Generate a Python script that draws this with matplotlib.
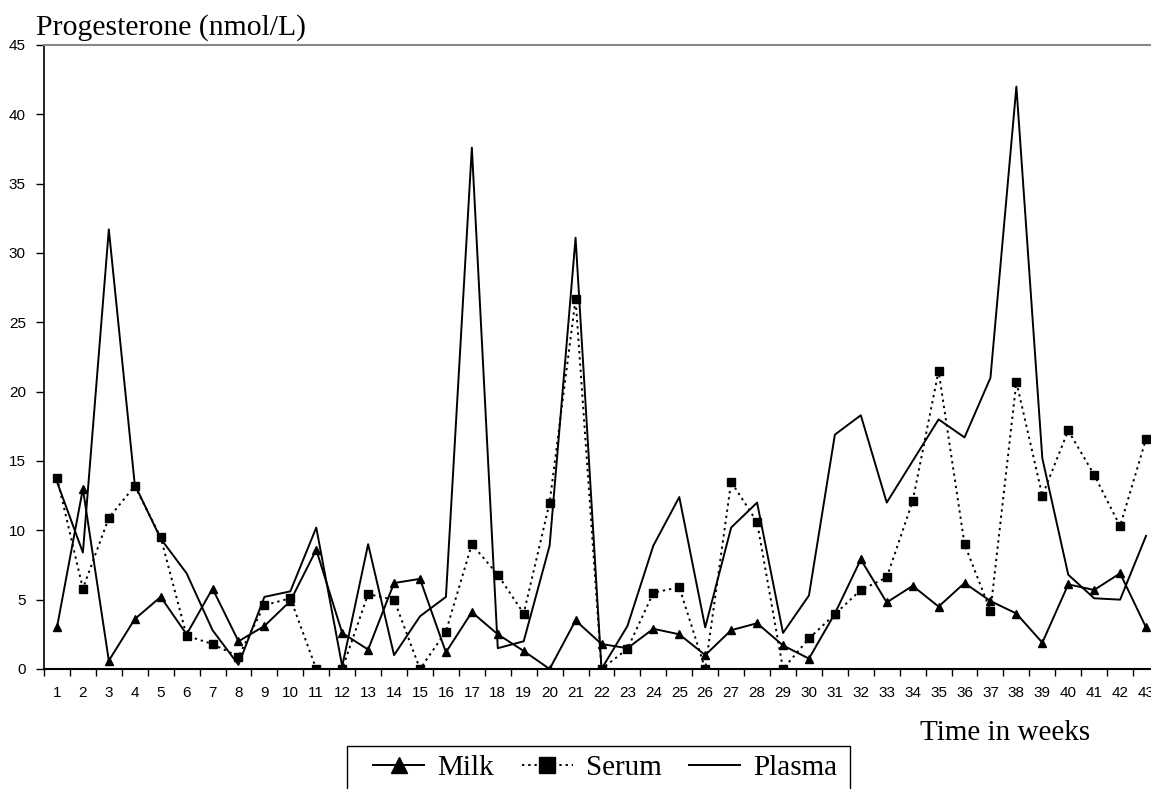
"""Progesterone in milk, serum and plasma over 43 weeks."""

import matplotlib
matplotlib.use('agg')
from matplotlib import pyplot
from matplotlib.patches import Rectangle

FIGURE_RESOLUTION_DPI = 100

WEEKS = list(range(1, 44))
WEEK_LABELS = [str(w) for w in WEEKS]

MILK_VALUES = [
    3.0, 13.0, 0.6, 3.6, 5.2, 2.5, 5.8, 2.0, 3.1, 4.9,
    8.6, 2.6, 1.4, 6.2, 6.5, 1.2, 4.1, 2.5, 1.3, 0.0,
    3.5, 1.8, 1.5, 2.9, 2.5, 1.0, 2.8, 3.3, 1.7, 0.75,
    4.0, 7.9, 4.8, 6.0, 4.5, 6.2, 4.9, 4.0, 1.9, 6.1,
    5.7, 6.9, 3.0
]
SERUM_VALUES = [
    13.8, 5.8, 10.9, 13.2, 9.5, 2.4, 1.8, 0.9, 4.6, 5.1,
    0.0, 0.0, 5.4, 5.0, 0.0, 2.7, 9.0, 6.8, 4.0, 12.0,
    26.7, 0.0, 1.45, 5.5, 5.9, 0.0, 13.5, 10.6, 0.0, 2.2,
    3.95, 5.7, 6.6, 12.1, 21.5, 9.0, 4.2, 20.7, 12.5, 17.2,
    14.0, 10.3, 16.6
]
PLASMA_VALUES = [
    13.5, 8.4, 31.7, 13.3, 9.4, 6.9, 2.8, 0.3, 5.2, 5.6,
    10.2, 0.2, 9.0, 1.0, 3.8, 5.2, 37.6, 1.5, 2.0, 8.9,
    31.1, 0.0, 3.1, 8.9, 12.4, 3.0, 10.2, 12.0, 2.6, 5.3,
    16.9, 18.3, 12.0, 15.0, 18.0, 16.7, 21.0, 42.0, 15.2, 6.8,
    5.1, 5.0, 9.6
]

SERIF = 'Liberation Serif'
SANS = 'Liberation Sans'
WIDTH_PX = 1151.
HEIGHT_PX = 789.


def _run(output_file_name):
    figure_object = pyplot.figure(
        figsize=(WIDTH_PX / 100, HEIGHT_PX / 100), dpi=FIGURE_RESOLUTION_DPI
    )
    axes_object = figure_object.add_axes(
        [44 / WIDTH_PX, 120 / HEIGHT_PX, 1115 / WIDTH_PX, 624 / HEIGHT_PX]
    )

    line_width = 1.4
    milk_handle, = axes_object.plot(
        WEEKS, MILK_VALUES, color='black', linewidth=line_width,
        marker='^', markersize=5.5, label='Milk'
    )
    serum_handle, = axes_object.plot(
        WEEKS, SERUM_VALUES, color='black', linewidth=line_width,
        linestyle=(0, (1.2, 2.0)), marker='s', markersize=5.5, label='Serum'
    )
    plasma_handle, = axes_object.plot(
        WEEKS, PLASMA_VALUES, color='black', linewidth=line_width,
        label='Plasma'
    )

    axes_object.set_xlim(0.5, 43.5)
    axes_object.set_ylim(0, 45)
    axes_object.set_yticks(range(0, 46, 5))
    axes_object.set_xticks(WEEKS)
    axes_object.set_xticklabels(WEEK_LABELS, fontfamily=SANS, fontsize=11)
    axes_object.set_xticks([w + 0.5 for w in [0] + WEEKS], minor=True)
    axes_object.tick_params(axis='x', which='major', length=0, pad=12)
    axes_object.tick_params(axis='x', which='minor', length=5, width=1,
                            direction='out')
    axes_object.tick_params(axis='y', length=6, width=1, direction='out',
                            pad=7)
    for label_object in axes_object.get_yticklabels():
        label_object.set_fontfamily(SANS)
        label_object.set_fontsize(11)

    axes_object.spines['top'].set_color('#888888')
    axes_object.spines['top'].set_linewidth(1.5)
    axes_object.spines['right'].set_visible(False)
    axes_object.spines['left'].set_linewidth(1.2)
    axes_object.spines['bottom'].set_linewidth(1.5)

    figure_object.text(
        36 / WIDTH_PX, 1 - 35 / HEIGHT_PX, 'Progesterone (nmol/L)',
        fontfamily=SERIF, fontsize=21.4, va='baseline', ha='left'
    )
    figure_object.text(
        920 / WIDTH_PX, 1 - 740 / HEIGHT_PX, 'Time in weeks',
        fontfamily=SERIF, fontsize=21, va='baseline', ha='left'
    )

    # legend box is drawn by hand, it runs off the bottom of the figure
    figure_object.patches.append(Rectangle(
        (347 / WIDTH_PX, -0.05), 503 / WIDTH_PX, 0.05 + (HEIGHT_PX - 746) / HEIGHT_PX,
        transform=figure_object.transFigure, facecolor='none',
        edgecolor='black', linewidth=1.0
    ))
    figure_object.legend(
        handles=[milk_handle, serum_handle, plasma_handle],
        loc='upper left', bbox_to_anchor=(373 / WIDTH_PX, 1 - 755 / HEIGHT_PX),
        ncol=3, frameon=False, handlelength=1.75, columnspacing=0.95,
        handletextpad=0.45, borderpad=0, borderaxespad=0,
        prop={'family': SERIF, 'size': 21}, markerscale=2.0
    )

    figure_object.savefig(output_file_name, dpi=FIGURE_RESOLUTION_DPI)
    pyplot.close(figure_object)


if __name__ == '__main__':
    _run(output_file_name='out.png')
